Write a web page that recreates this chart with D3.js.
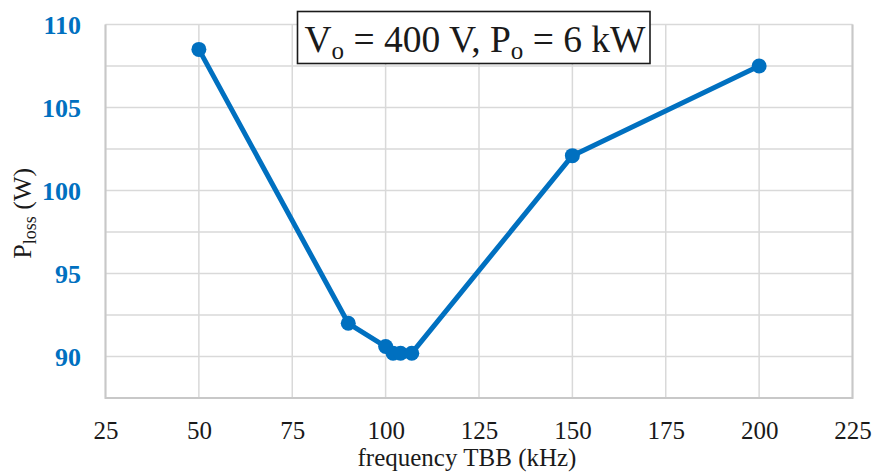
<!DOCTYPE html>
<html>
<head>
<meta charset="utf-8">
<script src="https://cdn.jsdelivr.net/npm/d3@7"></script>
<style>
  html, body { margin: 0; padding: 0; background: #fff; }
  svg { display: block; }
</style>
</head>
<body>
<svg id="chart" width="875" height="473"></svg>
<script>
// Switching frequency (kHz) and measured total loss (W)
const frequencies = [50, 90, 100, 102, 104, 107, 150, 200];
const lossValues = [108.5, 92.0, 90.6, 90.2, 90.2, 90.2, 102.1, 107.5];
const xTicks = [25, 50, 75, 100, 125, 150, 175, 200, 225];
const yTickLabels = [90, 95, 100, 105, 110];
const yGridValues = [87.5, 90, 92.5, 95, 97.5, 100, 102.5, 105, 107.5, 110];

const W = 875, H = 473;
const margin = { left: 105.5, right: W - 852.5, top: 24.5, bottom: H - 398 };
const blue = "#0070C0";
const serif = "Liberation Serif, Times New Roman, serif";

const svg = d3.select("#chart");

const x = d3.scaleLinear().domain([25, 225]).range([margin.left, W - margin.right]);
const y = d3.scaleLinear().domain([87.5, 110]).range([H - margin.bottom, margin.top]);

// Grid lines
const grid = svg.append("g");
grid.selectAll("line.h").data(yGridValues).join("line")
  .attr("x1", x(25)).attr("x2", x(225))
  .attr("y1", d => y(d)).attr("y2", d => y(d))
  .attr("stroke", "#d9d9d9").attr("stroke-width", 1.5);
grid.selectAll("line.v").data(xTicks).join("line")
  .attr("y1", y(87.5)).attr("y2", y(110))
  .attr("x1", d => x(d)).attr("x2", d => x(d))
  .attr("stroke", "#d9d9d9").attr("stroke-width", 1.5);

// Plot frame (left, bottom, right)
svg.append("path")
  .attr("d", `M${x(25)},${y(110)}V${y(87.5)}H${x(225)}V${y(110)}`)
  .attr("fill", "none").attr("stroke", "#c8c8c8").attr("stroke-width", 2);

// X axis tick labels
const xAxis = d3.axisBottom(x).tickValues(xTicks).tickSize(0).tickPadding(0);
const gx = svg.append("g").attr("transform", `translate(0,${y(87.5)})`).call(xAxis);
gx.select(".domain").remove();
gx.attr("font-family", null).attr("font-size", null);
gx.selectAll("text")
  .attr("dy", null).attr("y", 40.5)
  .style("font-family", serif).style("font-size", "25px").attr("fill", "#1a1a1a");

// Y axis tick labels
const yAxis = d3.axisLeft(y).tickValues(yTickLabels).tickSize(0).tickPadding(0);
const gy = svg.append("g").attr("transform", `translate(81,0)`).call(yAxis);
gy.select(".domain").remove();
gy.attr("font-family", null).attr("font-size", null);
gy.selectAll("text")
  .attr("dy", "0.33em")
  .style("font-family", serif).style("font-size", "26px").style("font-weight", "bold").attr("fill", blue);

// Axis titles
svg.append("text")
  .attr("x", 467).attr("y", 466)
  .attr("text-anchor", "middle")
  .style("font-family", serif).style("font-size", "25px").attr("fill", "#1a1a1a")
  .text("frequency TBB (kHz)");

const yTitle = svg.append("text")
  .attr("transform", `translate(31,${(y(87.5) + y(110)) / 2 + 2}) rotate(-90)`)
  .attr("text-anchor", "middle")
  .style("font-family", serif).style("font-size", "26px").attr("fill", "#1a1a1a");
yTitle.append("tspan").text("P");
yTitle.append("tspan").style("font-size", "18px").attr("dy", 5).text("loss");
yTitle.append("tspan").attr("dy", -5).text(" (W)");

// Data line and markers
const line = d3.line().x((d, i) => x(frequencies[i])).y(d => y(d));
svg.append("path")
  .datum(lossValues)
  .attr("d", line)
  .attr("fill", "none").attr("stroke", blue).attr("stroke-width", 5)
  .attr("stroke-linejoin", "round");
svg.selectAll("circle.pt").data(lossValues).join("circle")
  .attr("cx", (d, i) => x(frequencies[i])).attr("cy", d => y(d))
  .attr("r", 7.5).attr("fill", blue);

// Operating-condition annotation box
const box = svg.append("g");
box.append("rect")
  .attr("x", 297.5).attr("y", 11.5).attr("width", 352.5).attr("height", 52)
  .attr("fill", "#fff").attr("stroke", "#1a1a1a").attr("stroke-width", 1.6);
const label = box.append("text")
  .attr("x", 475).attr("y", 51.5)
  .attr("text-anchor", "middle")
  .style("font-family", serif).style("font-size", "37.5px").attr("fill", "#1a1a1a");
label.append("tspan").text("V");
label.append("tspan").style("font-size", "25px").attr("dy", 7).text("o");
label.append("tspan").attr("dy", -7).text(" = 400 V, P");
label.append("tspan").style("font-size", "25px").attr("dy", 7).text("o");
label.append("tspan").attr("dy", -7).text(" = 6 kW");
</script>
</body>
</html>
